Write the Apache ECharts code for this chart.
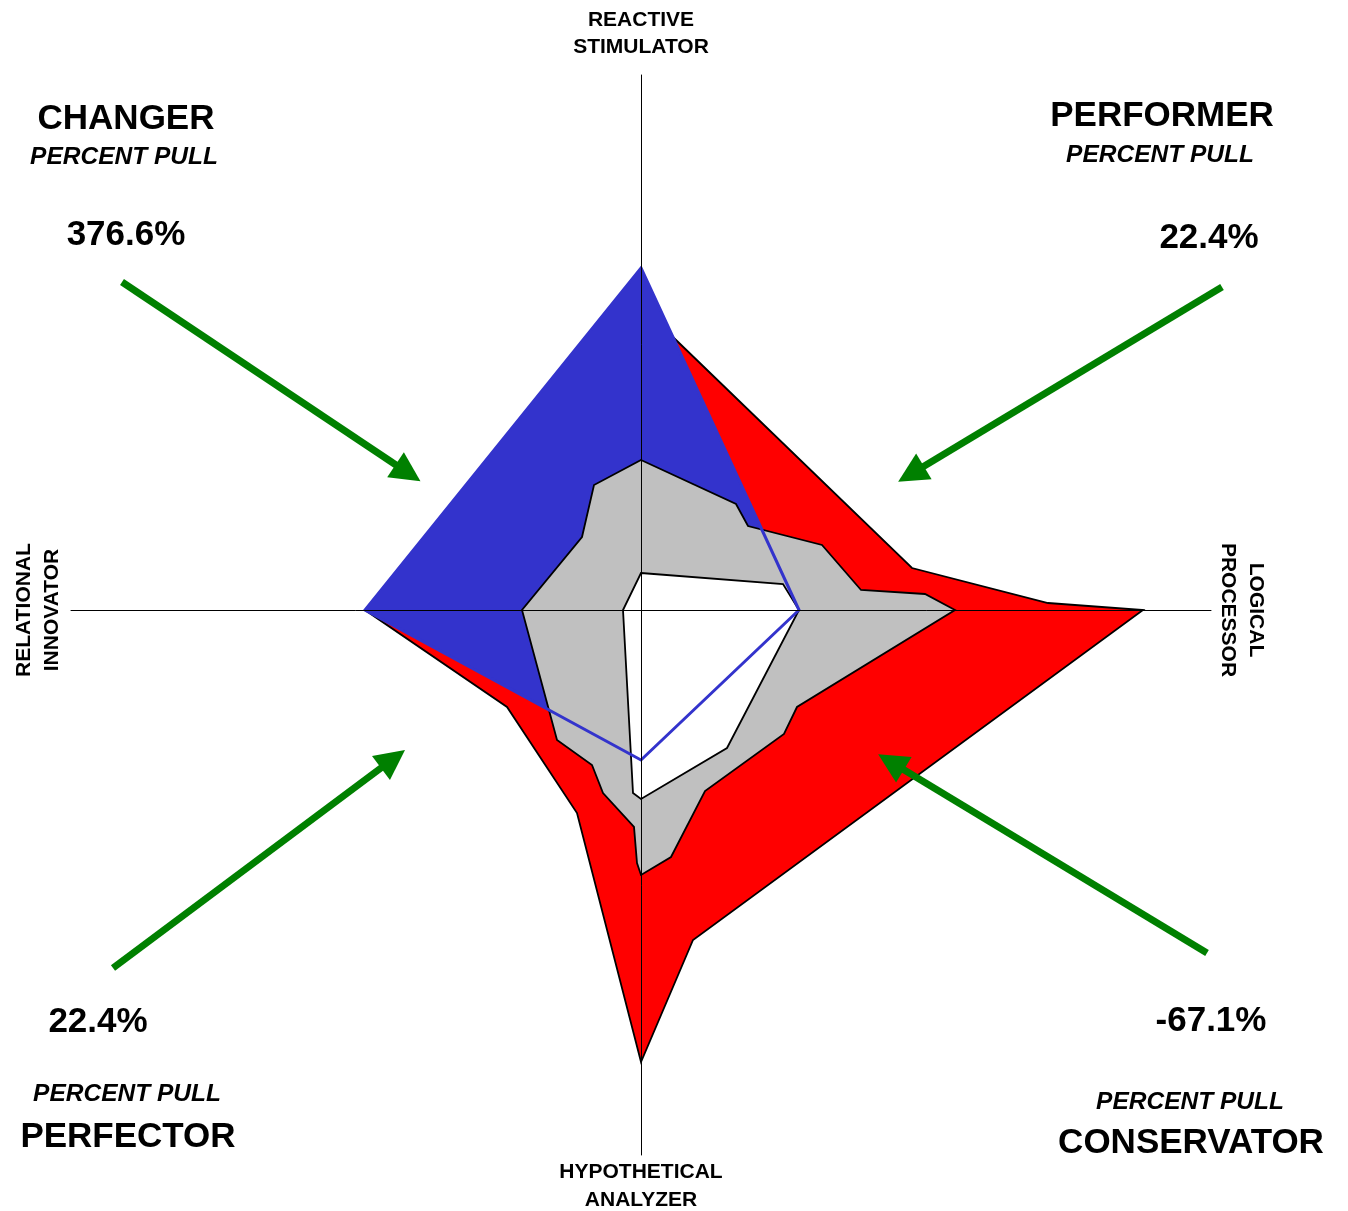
<!DOCTYPE html>
<html>
<head>
<meta charset="UTF-8">
<title>Percent Pull</title>
<script type="text/javascript" src="https://cdn.jsdelivr.net/npm/echarts@6/dist/echarts.min.js"></script>
<style>body{margin:0;background:#fff;}</style>
</head>
<body>
<div id="main" style="width: 1348px;height:1211px;"></div>
<script type="text/javascript">
// points are [x, y] around the chart centre, y goes up
var redPts = [[0, 304], [34, 271], [271, 42], [407, 7], [502, 0], [52, -330], [0, -452],
    [-64, -203], [-134, -97], [-276, 0]];
var bluePts = [[0, 342], [158, 0], [0, -150], [-276, 0]];
var grayPts = [[0, 150], [95, 106], [107, 84], [181, 65], [220, 20], [284, 16], [314, 0],
    [156, -97], [143, -124], [64, -181], [30, -247], [0, -265], [-4, -253], [-7, -217],
    [-38, -183], [-49, -155], [-84, -130], [-119, 0], [-59, 73], [-47, 125]];
var whitePts = [[0, 37], [142, 26], [158, 0], [86, -138], [0, -189], [-8, -183], [-18, 0]];

// arrows: start -> head
var arrows = [
    [[-519, 328], [-233, 137]],
    [[581, 323], [270, 136]],
    [[-528, -358], [-248, -149]],
    [[566, -343], [250, -152]]
];

var quadrantNames = ['CHANGER', 'PERFORMER', 'PERFECTOR', 'CONSERVATOR'];
var quadrantPulls = ['376.6%', '22.4%', '22.4%', '-67.1%'];
var axisNames = ['REACTIVE\nSTIMULATOR', 'LOGICAL\nPROCESSOR', 'HYPOTHETICAL\nANALYZER', 'RELATIONAL\nINNOVATOR'];

var FONT = '"Liberation Sans", Arial, sans-serif';

function polySeries(pts, fill, stroke, lw, z) {
    return {
        type: 'custom',
        coordinateSystem: 'cartesian2d',
        data: pts,
        encode: { x: 0, y: 1 },
        clip: false,
        silent: true,
        z: z,
        renderItem: function (params, api) {
            if (params.dataIndex !== 0) return;
            var points = pts.map(function (p) { return api.coord(p); });
            return {
                type: 'polygon',
                shape: { points: points },
                style: { fill: fill, stroke: stroke, lineWidth: lw, lineJoin: 'miter' }
            };
        }
    };
}

function txt(text, x, y, font, rot, lh) {
    return {
        type: 'text', x: x, y: y, rotation: rot || 0, z: 100,
        style: {
            text: text, font: font, fill: '#000',
            align: 'center', verticalAlign: 'middle', lineHeight: lh || 28
        }
    };
}

var big = 'bold 35px ' + FONT;
var ital = 'italic bold 24.5px ' + FONT;
var small = 'bold 21px ' + FONT;

var myChart = echarts.init(document.getElementById('main'));

var option = {
    animation: false,
    backgroundColor: '#fff',
    grid: { left: 71, top: 75, width: 1140, height: 1080, outerBoundsMode: 'none' },
    xAxis: {
        type: 'value', min: -570, max: 570, z: 10,
        splitLine: { show: false }, axisTick: { show: false }, axisLabel: { show: false },
        axisLine: { show: true, onZero: true, lineStyle: { color: '#000', width: 1 } }
    },
    yAxis: {
        type: 'value', min: -545, max: 535, z: 10,
        splitLine: { show: false }, axisTick: { show: false }, axisLabel: { show: false },
        axisLine: { show: true, onZero: true, lineStyle: { color: '#000', width: 1 } }
    },
    series: [
        polySeries(redPts, '#ff0000', '#000', 1.8, 2),
        polySeries(bluePts, '#3333cc', null, 0, 3),
        polySeries(grayPts, '#c0c0c0', '#000', 1.8, 4),
        polySeries(whitePts, '#ffffff', '#000', 1.8, 5),
        polySeries(bluePts, 'none', '#3333cc', 3, 6),
        {
            type: 'lines',
            coordinateSystem: 'cartesian2d',
            clip: false,
            silent: true,
            z: 20,
            symbol: ['none', 'triangle'],
            symbolSize: 30,
            lineStyle: { color: '#008000', width: 7, opacity: 1, curveness: 0 },
            data: arrows.map(function (a) { return { coords: a }; })
        }
    ],
    graphic: [
        txt(axisNames[0], 641, 34, small, 0, 27),
        txt(axisNames[2], 641, 1186, small, 0, 28),
        txt(axisNames[1], 1242, 610, small, -Math.PI / 2, 28),
        txt(axisNames[3], 38, 610, small, Math.PI / 2, 28),

        txt(quadrantNames[0], 126, 119, big),
        txt('PERCENT PULL', 124, 157, ital),
        txt(quadrantPulls[0], 126, 235, big),

        txt(quadrantNames[1], 1162, 116, big),
        txt('PERCENT PULL', 1160, 155, ital),
        txt(quadrantPulls[1], 1209, 238, big),

        txt(quadrantPulls[2], 98, 1022, big),
        txt('PERCENT PULL', 127, 1094, ital),
        txt(quadrantNames[2], 128, 1137, big),

        txt(quadrantPulls[3], 1211, 1021, big),
        txt('PERCENT PULL', 1190, 1102, ital),
        txt(quadrantNames[3], 1191, 1143, big)
    ]
};

myChart.setOption(option);
</script>
</body>
</html>
